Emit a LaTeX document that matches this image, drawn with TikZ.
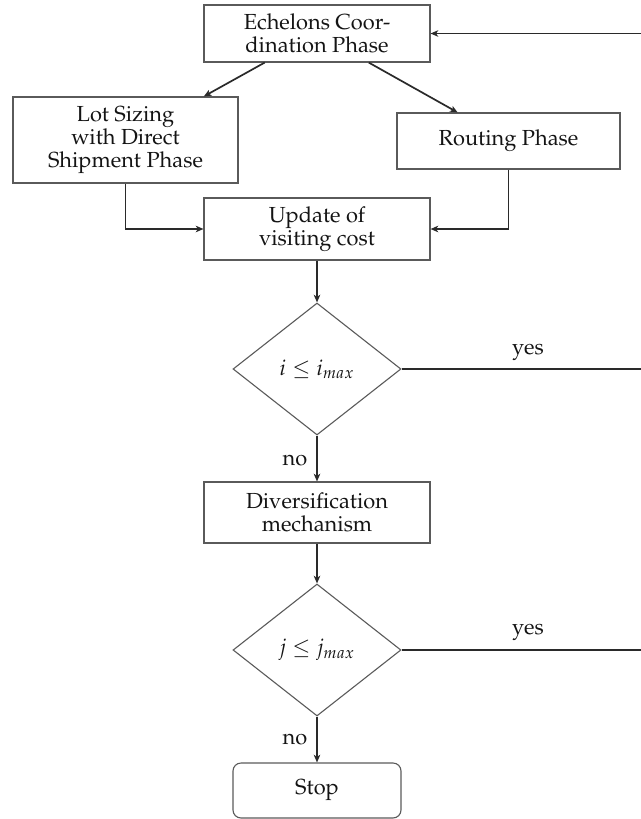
\documentclass[tikz,border=0pt]{standalone}
\usepackage[T1]{fontenc}
\usepackage{mathpazo}
\usetikzlibrary{shapes.geometric,arrows.meta}
\definecolor{lc}{HTML}{2A2A2A}
\definecolor{boxgray}{HTML}{5A5A5A}
\definecolor{txt}{HTML}{141414}
\newcommand\figfont{\fontsize{10.9pt}{11.65pt}\selectfont}
\begin{document}
\begin{tikzpicture}[x=0.5pt,y=-0.5pt,
  box/.style={draw=boxgray, line width=0.55pt, rectangle, align=center, inner sep=0pt, font=\figfont, text=txt},
  dec/.style={draw=boxgray, line width=0.55pt, diamond, aspect=1.2727, minimum width=84pt, minimum height=66pt, inner sep=0pt, font=\figfont, text=txt},
  conn/.style={draw=lc, line width=0.85pt, -{Stealth[length=3.8pt,width=3.2pt,inset=1pt]}},
  plain/.style={draw=lc, line width=0.85pt},
  lbl/.style={font=\figfont, text=txt, inner sep=0pt}]
\useasboundingbox (0,0) rectangle (641,819);
\node[box, minimum width=113pt, minimum height=28.5pt] (ech) at (317,33.5) {Echelons Coor-\\dination Phase};
\node[box, minimum width=112.5pt, minimum height=43pt] (lot) at (125.5,140) {Lot Sizing\\with Direct\\Shipment Phase};
\node[box, minimum width=111.5pt, minimum height=28pt] (rout) at (508.5,141) {Routing Phase};
\node[box, minimum width=113pt, minimum height=31pt] (upd) at (317,229) {Update of\\visiting cost};
\node[dec] (d1) at (317,369) {$i \leq i_{max}$};
\node[box, minimum width=113pt, minimum height=30.5pt] (div) at (317,512.5) {Diversification\\mechanism};
\node[dec] (d2) at (317,650) {$j \leq j_{max}$};
\node[box, rounded corners=4pt, minimum width=84pt, minimum height=27.5pt] (stop) at (317,790.5) {Stop};
\coordinate (e0) at (641,33.5);
\coordinate (e1) at (641,369);
\coordinate (e2) at (641,650);
\draw[conn] (e0) -- (ech);
\draw[conn] (ech) -- (lot);
\draw[conn] (ech) -- (rout);
\draw[conn] (lot) |- (upd);
\draw[conn] (rout) |- (upd);
\draw[conn] (upd) -- (d1);
\draw[conn] (d1) -- (div);
\draw[conn] (div) -- (d2);
\draw[conn] (d2) -- (stop);
\draw[plain] (d1.east) -- (e1);
\draw[plain] (d2.east) -- (e2);
\node[lbl] (yes1) at (528,352) {yes};
\node[lbl] (yes2) at (528,632) {yes};
\node[lbl] (no1) at (295,460) {no};
\node[lbl] (no2) at (295,739) {no};
\end{tikzpicture}
\end{document}
